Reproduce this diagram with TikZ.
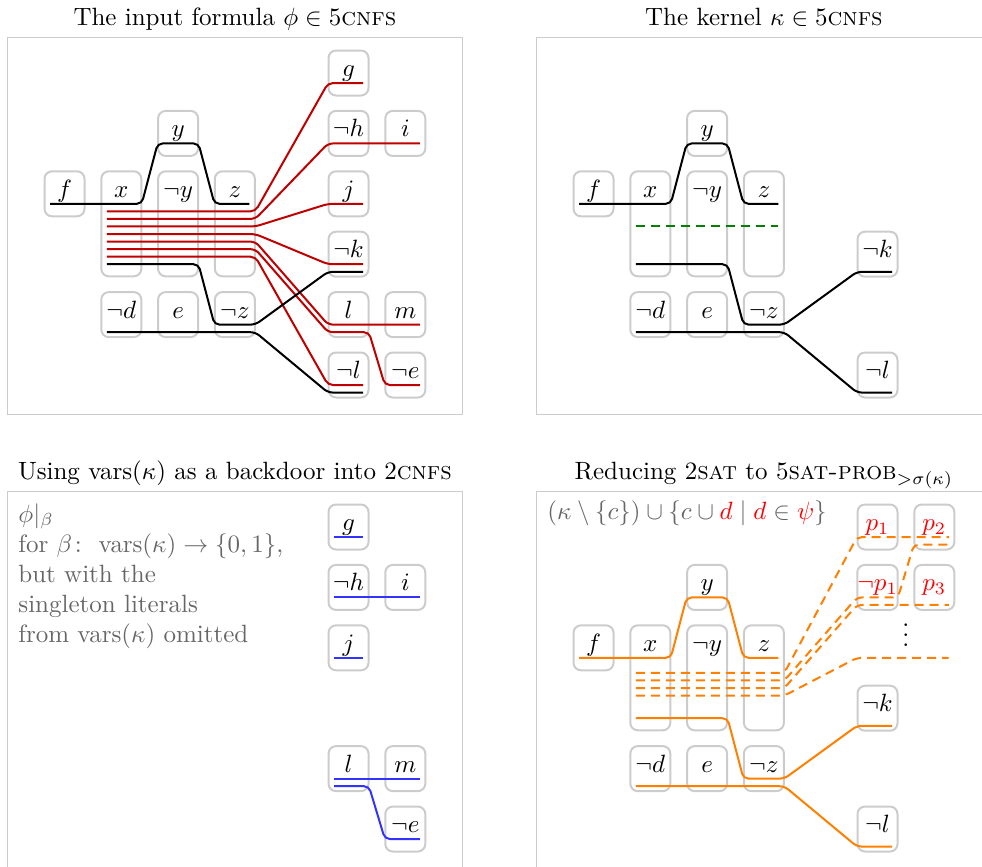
\documentclass[tikz,border=0pt]{standalone}
\usepackage{amsmath}
\usepackage{amsfonts}
\usepackage{tikz}
\tikzstyle{lit} = [rectangle, rounded corners=3pt, draw=gray!40, thick, minimum width=16pt, inner sep=0pt, text height=10.4pt, text depth=7.6pt, anchor=base, yshift=-1.4pt]
\tikzstyle{tall} = [lit, text depth=31.6pt]
\tikzstyle{panel} = [draw=gray!40, thin]
\tikzstyle{title} = [anchor=base]
\tikzstyle{note} = [align=left, text=black!60, inner sep=0pt]
\tikzstyle{wire} = [thick, rounded corners=2pt]
\tikzstyle{redwire} = [wire, red!75!black]
\tikzstyle{bluewire} = [wire, blue!80]
\tikzstyle{orangewire} = [wire, orange]
\tikzstyle{dashwire} = [dash pattern=on 3.6pt off 2.4pt]
\tikzstyle{ls} = [xshift=2.6pt, yshift=-2.6pt]
\tikzstyle{rs} = [xshift=-2.6pt, yshift=-2.6pt]
\newcommand{\lv}[2]{#1+0.166+0.125*#2}

\begin{document}
\begin{tikzpicture}[x=22.72pt, y=-24.16pt]
\useasboundingbox (-25.8pt,29.2pt) rectangle (367pt,-317.2pt);

% the input formula
\begin{scope}
\draw[panel] (-1,-0.58) rectangle (7,5.65);
\node[title] (tA) at (3,-0.78) {The input formula $\phi \in 5$\textsc{cnfs}};

\node[lit] (fA) at (0,2) {$f$};
\node[tall] (xA) at (1,2) {$x$};
\node[lit] (yA) at (2,1) {$y$};
\node[tall] (nyA) at (2,2) {$\neg y$};
\node[tall] (zA) at (3,2) {$z$};
\node[lit] (ndA) at (1,4) {$\neg d$};
\node[lit] (eA) at (2,4) {$e$};
\node[lit] (nzA) at (3,4) {$\neg z$};
\node[lit] (gA) at (5,0) {$g$};
\node[lit] (nhA) at (5,1) {$\neg h$};
\node[lit] (iA) at (6,1) {$i$};
\node[lit] (jA) at (5,2) {$j$};
\node[lit] (nkA) at (5,3) {$\neg k$};
\node[lit] (lA) at (5,4) {$l$};
\node[lit] (mA) at (6,4) {$m$};
\node[lit] (nlA) at (5,5) {$\neg l$};
\node[lit] (neA) at (6,5) {$\neg e$};

\draw[wire] ([ls]fA.base west) -- (1.36,{\lv{2}{0}}) -- (1.64,{\lv{1}{0}}) -- (2.36,{\lv{1}{0}}) -- (2.64,{\lv{2}{0}}) -- ([rs]zA.base east);
\draw[redwire] ([ls,yshift=-3.02pt]xA.base west) -- (3.36,{\lv{2}{1}}) -- (4.64,{\lv{0}{0}}) -- ([rs]gA.base east);
\draw[redwire] ([ls,yshift=-6.04pt]xA.base west) -- (3.36,{\lv{2}{2}}) -- (4.64,{\lv{1}{0}}) -- ([rs]iA.base east);
\draw[redwire] ([ls,yshift=-9.06pt]xA.base west) -- (3.36,{\lv{2}{3}}) -- (4.64,{\lv{2}{0}}) -- ([rs]jA.base east);
\draw[redwire] ([ls,yshift=-12.08pt]xA.base west) -- (3.36,{\lv{2}{4}}) -- (4.64,{\lv{3}{0}}) -- ([rs]nkA.base east);
\draw[redwire] ([ls,yshift=-15.1pt]xA.base west) -- (3.36,{\lv{2}{5}}) -- (4.64,{\lv{4}{0}}) -- ([rs]mA.base east);
\draw[redwire] ([ls,yshift=-18.12pt]xA.base west) -- (3.36,{\lv{2}{6}}) -- (4.64,{\lv{4}{1}}) -- (5.36,{\lv{4}{1}}) -- (5.64,{\lv{5}{0}}) -- ([rs]neA.base east);
\draw[redwire] ([ls,yshift=-21.14pt]xA.base west) -- (3.36,{\lv{2}{7}}) -- (4.64,{\lv{5}{0}}) -- ([rs]nlA.base east);
\draw[wire] ([ls,yshift=-24.16pt]xA.base west) -- (2.36,{\lv{3}{0}}) -- (2.64,{\lv{4}{0}}) -- (3.36,{\lv{4}{0}}) -- (4.64,{\lv{3}{1}}) -- ([rs,yshift=-3.02pt]nkA.base east);
\draw[wire] ([ls,yshift=-3.02pt]ndA.base west) -- (3.36,{\lv{4}{1}}) -- (4.64,{\lv{5}{1}}) -- ([rs,yshift=-3.02pt]nlA.base east);
\end{scope}

% the kernel
\begin{scope}[xshift=211.6pt]
\draw[panel] (-1,-0.58) rectangle (7,5.65);
\node[title] (tB) at (3,-0.78) {The kernel $\kappa \in 5$\textsc{cnfs}};

\node[lit] (fB) at (0,2) {$f$};
\node[tall] (xB) at (1,2) {$x$};
\node[lit] (yB) at (2,1) {$y$};
\node[tall] (nyB) at (2,2) {$\neg y$};
\node[tall] (zB) at (3,2) {$z$};
\node[lit] (ndB) at (1,4) {$\neg d$};
\node[lit] (eB) at (2,4) {$e$};
\node[lit] (nzB) at (3,4) {$\neg z$};
\node[lit] (nkB) at (5,3) {$\neg k$};
\node[lit] (nlB) at (5,5) {$\neg l$};

\draw[wire] ([ls]fB.base west) -- (1.36,{\lv{2}{0}}) -- (1.64,{\lv{1}{0}}) -- (2.36,{\lv{1}{0}}) -- (2.64,{\lv{2}{0}}) -- ([rs]zB.base east);
\draw[wire, dashwire, green!50!black] ([ls,yshift=-9.06pt]xB.base west) -- ([rs,yshift=-9.06pt]zB.base east);
\draw[wire] ([ls,yshift=-24.16pt]xB.base west) -- (2.36,{\lv{3}{0}}) -- (2.64,{\lv{4}{0}}) -- (3.36,{\lv{4}{0}}) -- (4.64,{\lv{3}{1}}) -- ([rs,yshift=-3.02pt]nkB.base east);
\draw[wire] ([ls,yshift=-3.02pt]ndB.base west) -- (3.36,{\lv{4}{1}}) -- (4.64,{\lv{5}{1}}) -- ([rs,yshift=-3.02pt]nlB.base east);
\end{scope}

% the backdoor
\begin{scope}[yshift=-181.6pt]
\draw[panel] (-1,-0.58) rectangle (7,5.65);
\node[title] (tC) at (3,-0.78) {Using vars$(\kappa)$ as a backdoor into 2\textsc{cnfs}};
\node[note, anchor=north west] (txtC) at (-0.82,-0.4) {$\phi|_\beta$\\for $\beta\colon\ \mathrm{vars}(\kappa) \to \{0,1\}$,\\but with the\\singleton literals\\from vars$(\kappa)$ omitted};

\node[lit] (gC) at (5,0) {$g$};
\node[lit] (nhC) at (5,1) {$\neg h$};
\node[lit] (iC) at (6,1) {$i$};
\node[lit] (jC) at (5,2) {$j$};
\node[lit] (lC) at (5,4) {$l$};
\node[lit] (mC) at (6,4) {$m$};
\node[lit] (neC) at (6,5) {$\neg e$};

\draw[bluewire] ([ls]gC.base west) -- ([rs]gC.base east);
\draw[bluewire] ([ls]nhC.base west) -- ([rs]iC.base east);
\draw[bluewire] ([ls]jC.base west) -- ([rs]jC.base east);
\draw[bluewire] ([ls]lC.base west) -- ([rs]mC.base east);
\draw[bluewire] ([ls,yshift=-3.02pt]lC.base west) -- (5.36,{\lv{4}{1}}) -- (5.64,{\lv{5}{0}}) -- ([rs]neC.base east);
\end{scope}

% the reduction
\begin{scope}[xshift=211.6pt, yshift=-181.6pt]
\draw[panel] (-1,-0.58) rectangle (7,5.65);
\node[title] (tD) at (3,-0.78) {Reducing 2\textsc{sat} to 5\textsc{sat-prob}$_{>\sigma(\kappa)}$};
\node[note, anchor=base west] (txtD) at (-0.82,-0.12) {$(\kappa \setminus \{c\}) \cup \{c \cup \textcolor{red}{d} \mid \textcolor{red}{d} \in \textcolor{red}{\psi}\}$};

\node[lit] (fD) at (0,2) {$f$};
\node[tall] (xD) at (1,2) {$x$};
\node[lit] (yD) at (2,1) {$y$};
\node[tall] (nyD) at (2,2) {$\neg y$};
\node[tall] (zD) at (3,2) {$z$};
\node[lit] (ndD) at (1,4) {$\neg d$};
\node[lit] (eD) at (2,4) {$e$};
\node[lit] (nzD) at (3,4) {$\neg z$};
\node[lit, text=red] (p1D) at (5,0) {$p_1$};
\node[lit, text=red] (p2D) at (6,0) {$p_2$};
\node[lit, text=red] (np1D) at (5,1) {$\neg p_1$};
\node[lit, text=red] (p3D) at (6,1) {$p_3$};
\node (dotsD) at (5.5,1.66) {$\vdots$};
\node[lit] (nkD) at (5,3) {$\neg k$};
\node[lit] (nlD) at (5,5) {$\neg l$};
\coordinate (moreD) at (6.25,{\lv{2}{0}});

\draw[orangewire] ([ls]fD.base west) -- (1.36,{\lv{2}{0}}) -- (1.64,{\lv{1}{0}}) -- (2.36,{\lv{1}{0}}) -- (2.64,{\lv{2}{0}}) -- ([rs]zD.base east);
\draw[orangewire, dashwire] ([ls,yshift=-6.04pt]xD.base west) -- (3.36,{\lv{2}{2}}) -- (4.64,{\lv{0}{0}}) -- ([rs]p2D.base east);
\draw[orangewire, dashwire] ([ls,yshift=-9.06pt]xD.base west) -- (3.36,{\lv{2}{3}}) -- (4.64,{\lv{1}{0}}) -- (5.36,{\lv{1}{0}}) -- (5.64,{\lv{0}{1}}) -- ([rs,yshift=-3.02pt]p2D.base east);
\draw[orangewire, dashwire] ([ls,yshift=-12.08pt]xD.base west) -- (3.36,{\lv{2}{4}}) -- (4.64,{\lv{1}{1}}) -- ([rs,yshift=-3.02pt]p3D.base east);
\draw[orangewire, dashwire] ([ls,yshift=-15.1pt]xD.base west) -- (3.36,{\lv{2}{5}}) -- (4.64,{\lv{2}{0}}) -- (moreD);
\draw[orangewire] ([ls,yshift=-24.16pt]xD.base west) -- (2.36,{\lv{3}{0}}) -- (2.64,{\lv{4}{0}}) -- (3.36,{\lv{4}{0}}) -- (4.64,{\lv{3}{1}}) -- ([rs,yshift=-3.02pt]nkD.base east);
\draw[orangewire] ([ls,yshift=-3.02pt]ndD.base west) -- (3.36,{\lv{4}{1}}) -- (4.64,{\lv{5}{1}}) -- ([rs,yshift=-3.02pt]nlD.base east);
\end{scope}

\end{tikzpicture}
\end{document}
